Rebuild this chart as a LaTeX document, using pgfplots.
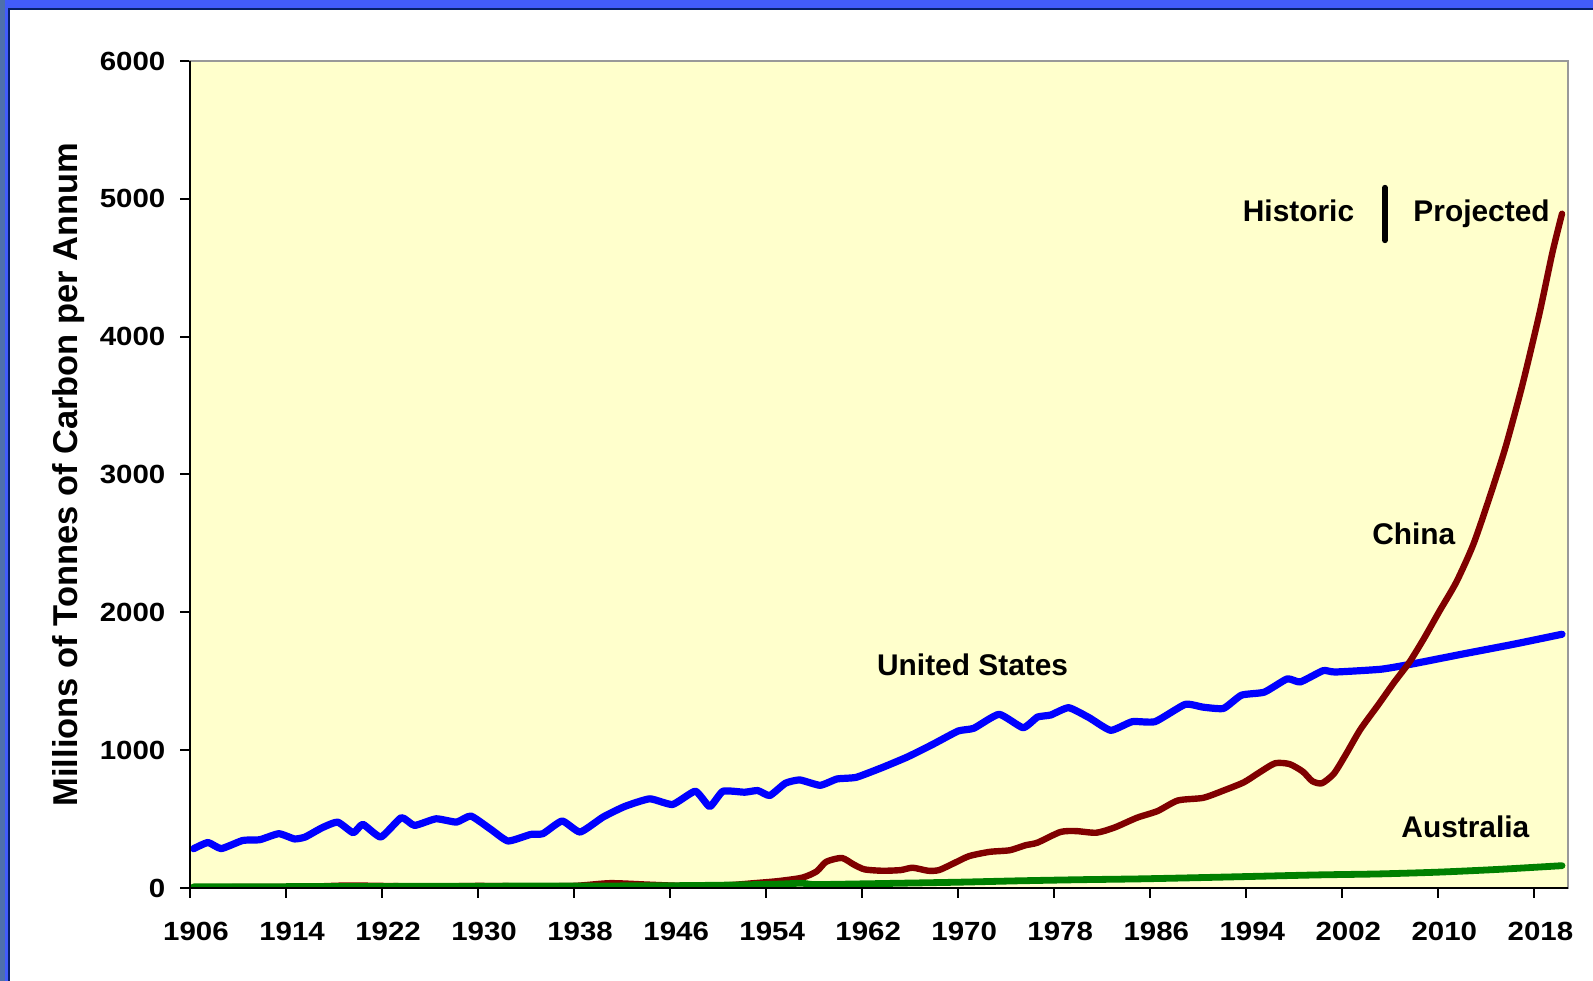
\documentclass[border=0pt]{standalone}
\usepackage{fontspec}
\setmainfont{Liberation Sans}
\newfontfamily\tickfont[FakeStretch=1.12]{Liberation Sans}
\usepackage{pgfplots}
\usepackage{pgfplotstable}
\pgfplotsset{compat=1.18}
\definecolor{bgyellow}{RGB}{255,255,204}
\definecolor{usblue}{RGB}{0,0,255}
\definecolor{cnred}{RGB}{128,0,0}
\definecolor{augreen}{RGB}{0,128,0}
\definecolor{framesteel}{RGB}{78,112,172}
\definecolor{framebright}{RGB}{66,92,250}
\definecolor{framenavy}{RGB}{6,32,104}

\pgfplotstableread{
year value
1906.3 285
1907.5 330
1908.6 286
1910.4 345
1911.8 350
1913.4 394
1914.7 356
1915.6 370
1917.0 437
1918.3 478
1919.6 401
1920.4 462
1921.9 370
1923.6 510
1924.7 454
1926.5 502
1928.2 478
1929.4 522
1931.1 423
1932.5 341
1934.4 389
1935.4 394
1937.0 486
1938.5 406
1940.4 514
1942.2 591
1944.3 647
1946.2 606
1948.1 702
1949.3 591
1950.4 702
1952.2 695
1953.3 707
1954.3 671
1955.6 760
1956.8 784
1958.5 745
1959.9 791
1961.5 803
1963.7 875
1965.8 952
1967.9 1043
1970.0 1139
1971.3 1159
1973.4 1260
1975.4 1163
1976.6 1240
1977.7 1255
1979.2 1308
1980.9 1236
1982.7 1144
1984.5 1207
1986.4 1207
1988.9 1332
1990.4 1312
1992.1 1303
1993.6 1399
1995.5 1421
1997.4 1517
1998.5 1495
2000.4 1577
2001.4 1567
2005.2 1587
2007.8 1625
2012.0 1697
2016.3 1769
2020.3 1841
}\usdata

\pgfplotstableread{
year value
1906.3 5
1915.0 8
1919.0 18
1922.0 15
1926.0 10
1930.0 15
1934.0 12
1938.0 15
1941.0 35
1944.0 25
1947.0 15
1950.0 15
1953.0 35
1955.0 50
1957.0 75
1958.2 120
1959.0 190
1960.3 218
1961.3 170
1962.2 135
1963.7 125
1965.2 130
1966.2 147
1967.5 125
1968.4 130
1969.6 178
1970.9 231
1972.6 262
1974.3 274
1975.6 310
1976.6 329
1978.5 406
1979.8 413
1981.5 401
1983.0 438
1984.9 510
1986.6 558
1988.3 635
1990.4 654
1992.1 707
1993.8 767
1995.1 839
1996.4 905
1997.6 899
1998.7 845
1999.5 775
2000.3 760
2001.3 830
2002.3 970
2003.5 1150
2005.0 1330
2006.3 1490
2007.6 1640
2008.8 1810
2010.1 2010
2011.5 2220
2012.9 2490
2014.25 2830
2015.6 3200
2017.0 3650
2018.4 4160
2019.5 4610
2020.3 4892
}\cndata

\pgfplotstableread{
year value
1906.3 8
1915 10
1925 12
1935 14
1945 16
1950 20
1955 28
1957 35
1958 25
1962 30
1970 42
1975 52
1980 60
1985 66
1990 75
1995 85
2000 95
2005 102
2010 115
2015 135
2020.3 162
}\audata

\begin{document}
\begin{tikzpicture}
\useasboundingbox (0bp,0bp) rectangle (796.5bp,490.5bp);
\fill[white] (0bp,0bp) rectangle (796.5bp,490.5bp);
% frame
\fill[framenavy] (0bp,0bp) rectangle (5bp,490.5bp);
\fill[framenavy] (0bp,485.5bp) rectangle (796.5bp,490.5bp);
\fill[framebright] (0bp,0bp) rectangle (4bp,490.5bp);
\fill[framebright] (0bp,486.7bp) rectangle (796.5bp,490.5bp);
\fill[framesteel] (0bp,0bp) rectangle (2.5bp,490.5bp);
\begin{axis}[
  at={(95bp,46.5bp)}, anchor=south west,
  scale only axis, width=689bp, height=413.5bp,
  xmin=1906, xmax=2020.8, ymin=0, ymax=6000,
  xtick={1906,1914,...,2018}, ytick={0,1000,...,6000},
  axis background/.style={fill=bgyellow},
  axis line style={draw=gray!80, line width=1bp},
  tick align=outside, major tick length=5bp,
  xtick pos=bottom, ytick pos=left,
  every tick/.style={black, line width=1bp},
  /pgf/number format/assume math mode=true,
  /pgf/number format/1000 sep={},
  tick label style={font=\fontsize{13.2}{15}\tickfont\bfseries, black},
  xticklabel style={yshift=-8.5bp, xshift=3bp},
  yticklabel style={xshift=-3.8bp},
  ylabel={Millions of Tonnes of Carbon per Annum},
  ylabel style={at={(axis description cs:-0.0878,0.5)}, anchor=center, font=\fontsize{17.3}{20}\selectfont\bfseries},
  clip=true,
  after end axis/.code={
    \draw[black, line width=1bp] (rel axis cs:0,1) -- (rel axis cs:0,0) -- (rel axis cs:1,0);
  },
]
\addplot[usblue, line width=3.6bp, line join=round, line cap=round, smooth, tension=0.3] table[x=year,y=value] {\usdata};
\addplot[cnred, line width=3.2bp, line join=round, line cap=round, smooth, tension=0.4] table[x=year,y=value] {\cndata};
\addplot[augreen, line width=3.4bp, line join=round, line cap=round, smooth, tension=0.4] table[x=year,y=value] {\audata};
\addplot[black, line width=3bp, line cap=round] coordinates {(2005.55,4700) (2005.55,5080)};
\node[anchor=base, font=\fontsize{15}{18}\selectfont\bfseries] at (axis cs:1998.35,4834) {Historic};
\node[anchor=base, font=\fontsize{15}{18}\selectfont\bfseries] at (axis cs:2013.6,4834) {Projected};
\node[anchor=base, font=\fontsize{15}{18}\selectfont\bfseries] at (axis cs:1971.2,1540) {United States};
\node[anchor=base, font=\fontsize{15}{18}\selectfont\bfseries] at (axis cs:2007.95,2490) {China};
\node[anchor=base, font=\fontsize{15}{18}\selectfont\bfseries] at (axis cs:2012.25,370) {Australia};
\end{axis}
\end{tikzpicture}
\end{document}
